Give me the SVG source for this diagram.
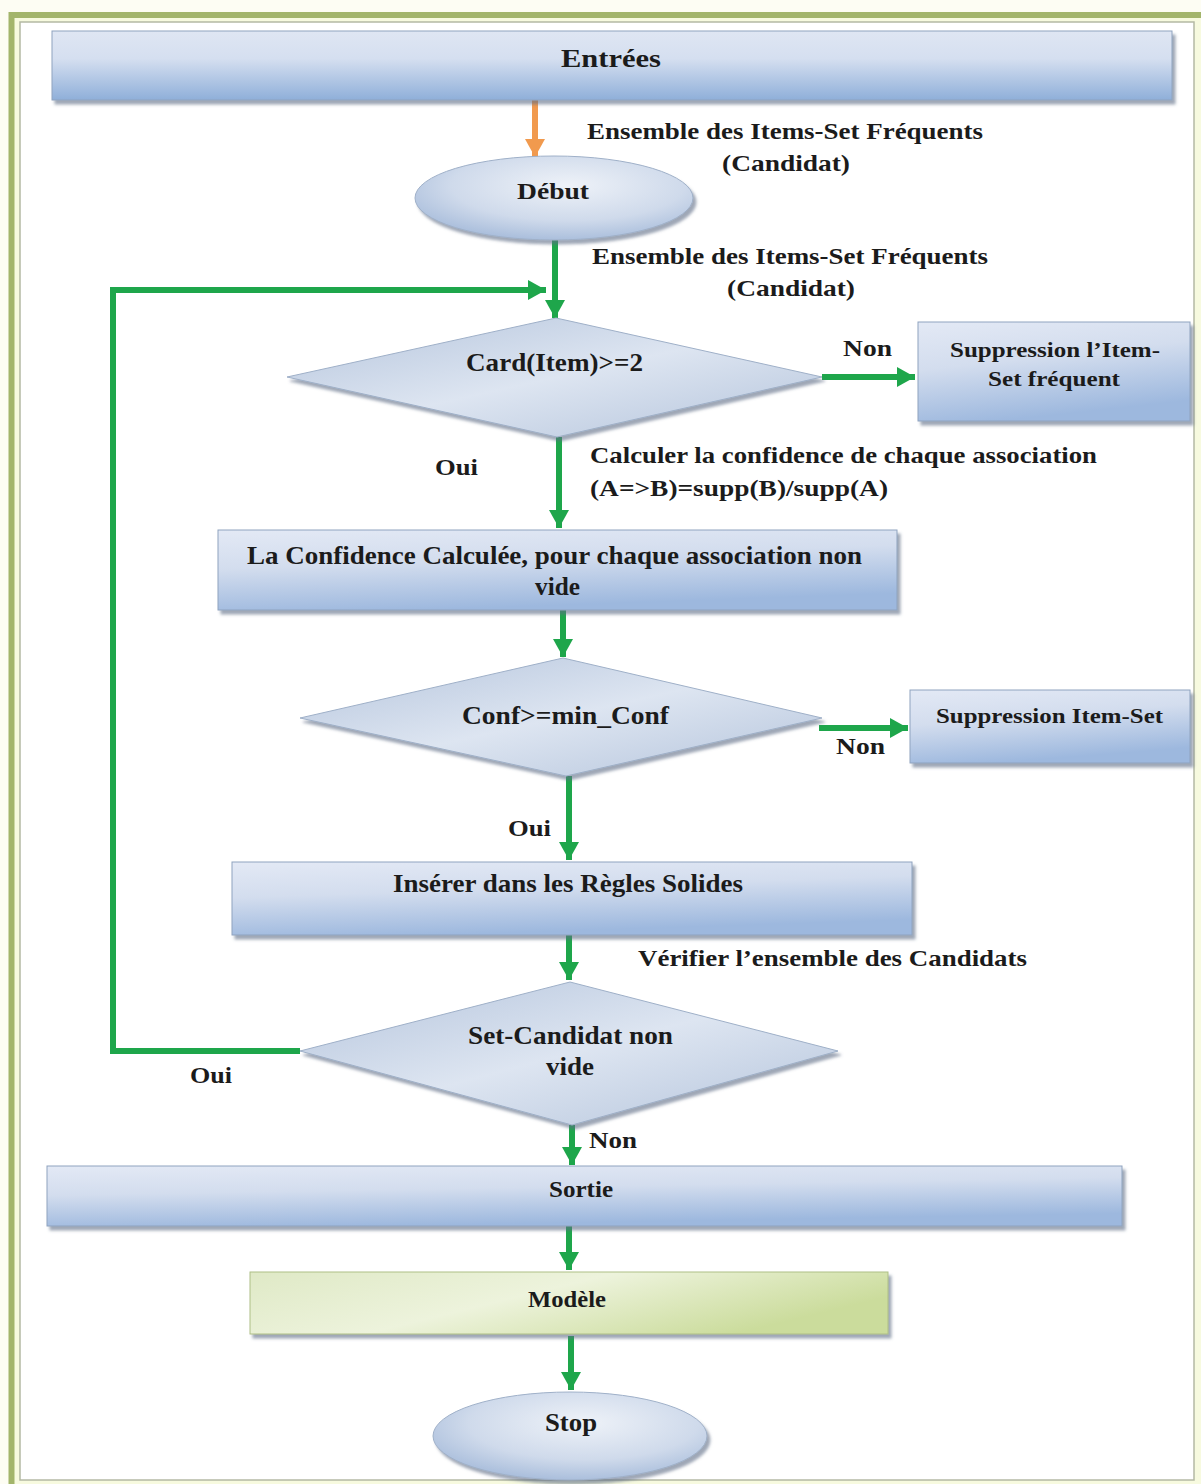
<svg xmlns="http://www.w3.org/2000/svg" width="1201" height="1484" viewBox="0 0 1201 1484">
  <style>
    .t { font-family: "Liberation Serif", "Times New Roman", serif; font-weight: bold; fill: #1b1b1b; }
    .s22 { font-size: 24px; }
    .s26 { font-size: 26px; }
    .s24 { font-size: 26px; }
    .s20 { font-size: 22px; }
    .flow { fill: none; stroke: #1ea64b; stroke-width: 6; }
    .flowo { fill: none; stroke: #f19a4e; stroke-width: 6; }
    .box { fill: url(#gBlue); stroke: #8fa3bf; stroke-width: 1; filter: url(#shadow); }
    .dia { fill: url(#gDia); stroke: #9fb0c8; stroke-width: 1; filter: url(#shadow); }
    .ell { fill: url(#gEll); stroke: #9fb0c8; stroke-width: 1; filter: url(#shadow); }
  </style>
  <defs>
    <linearGradient id="gBlue" x1="0" y1="0" x2="0.3" y2="1">
      <stop offset="0" stop-color="#e3e9f5"/>
      <stop offset="0.45" stop-color="#d3ddee"/>
      <stop offset="1" stop-color="#9db8de"/>
    </linearGradient>
    <linearGradient id="gTop" x1="0" y1="0" x2="0" y2="1">
      <stop offset="0" stop-color="#dfe6f3"/>
      <stop offset="0.4" stop-color="#d5dff0"/>
      <stop offset="1" stop-color="#8fafd9"/>
    </linearGradient>
    <linearGradient id="gDia" x1="0" y1="0" x2="1" y2="1">
      <stop offset="0" stop-color="#b4c4dc"/>
      <stop offset="0.5" stop-color="#dde5f1"/>
      <stop offset="1" stop-color="#b3c3db"/>
    </linearGradient>
    <radialGradient id="gEll" cx="0.55" cy="0.35" r="0.7">
      <stop offset="0" stop-color="#eef2f8"/>
      <stop offset="0.6" stop-color="#cfdaeb"/>
      <stop offset="1" stop-color="#a3b9d9"/>
    </radialGradient>
    <linearGradient id="gGreen" x1="0" y1="0" x2="1" y2="0.4">
      <stop offset="0" stop-color="#dfe9c6"/>
      <stop offset="0.5" stop-color="#edf3dc"/>
      <stop offset="1" stop-color="#cbdc9c"/>
    </linearGradient>
    <filter id="shadow" x="-5%" y="-10%" width="115%" height="130%">
      <feDropShadow dx="3" dy="4" stdDeviation="1.5" flood-color="#5d6d85" flood-opacity="0.6"/>
    </filter>
    <marker id="ahG" markerUnits="userSpaceOnUse" markerWidth="22" markerHeight="22" viewBox="0 0 22 22" refX="18" refY="11" orient="auto">
      <path d="M0,1 L18,11 L0,21 z" fill="#1ea64b"/>
    </marker>
    <marker id="ahO" markerUnits="userSpaceOnUse" markerWidth="22" markerHeight="22" viewBox="0 0 22 22" refX="18" refY="11" orient="auto">
      <path d="M0,1 L18,11 L0,21 z" fill="#f19a4e"/>
    </marker>
  </defs>

  <!-- page and frame -->
  <rect x="0" y="0" width="1201" height="1484" fill="#fdfdf3"/>
  <rect x="11.5" y="15" width="1200" height="1480" fill="#f7fadf" stroke="#a3b56b" stroke-width="6"/>
  <rect x="20" y="22" width="1174" height="1458" fill="#ffffff" stroke="#b4b9a4" stroke-width="1.5"/>

  <!-- connectors -->
  <g id="connectors">
    <line class="flowo" x1="535" y1="100" x2="535" y2="157" marker-end="url(#ahO)"/>
    <line class="flow" x1="555" y1="240" x2="555" y2="318" marker-end="url(#ahG)"/>
    <polyline class="flow" points="300,1051 113,1051 113,290 546,290" marker-end="url(#ahG)"/>
    <line class="flow" x1="822" y1="377" x2="915" y2="377" marker-end="url(#ahG)"/>
    <line class="flow" x1="559" y1="437" x2="559" y2="528" marker-end="url(#ahG)"/>
    <line class="flow" x1="563" y1="610" x2="563" y2="657" marker-end="url(#ahG)"/>
    <line class="flow" x1="819" y1="728" x2="908" y2="728" marker-end="url(#ahG)"/>
    <line class="flow" x1="569" y1="776" x2="569" y2="860" marker-end="url(#ahG)"/>
    <line class="flow" x1="569" y1="935" x2="569" y2="980" marker-end="url(#ahG)"/>
    <line class="flow" x1="572" y1="1125" x2="572" y2="1165" marker-end="url(#ahG)"/>
    <line class="flow" x1="569" y1="1226" x2="569" y2="1270" marker-end="url(#ahG)"/>
    <line class="flow" x1="571" y1="1336" x2="571" y2="1390" marker-end="url(#ahG)"/>
  </g>

  <!-- edge labels -->
  <g id="labels">
    <text class="t s22" x="587" y="139" textLength="396" lengthAdjust="spacingAndGlyphs">Ensemble des Items-Set Fréquents</text>
    <text class="t s22" x="722" y="171" textLength="128" lengthAdjust="spacingAndGlyphs">(Candidat)</text>
    <text class="t s22" x="592" y="264" textLength="396" lengthAdjust="spacingAndGlyphs">Ensemble des Items-Set Fréquents</text>
    <text class="t s22" x="727" y="296" textLength="128" lengthAdjust="spacingAndGlyphs">(Candidat)</text>
    <text class="t s22" x="843" y="356" textLength="49" lengthAdjust="spacingAndGlyphs">Non</text>
    <text class="t s22" x="435" y="475" textLength="43" lengthAdjust="spacingAndGlyphs">Oui</text>
    <text class="t s22" x="590" y="463" textLength="507" lengthAdjust="spacingAndGlyphs">Calculer la confidence de chaque association</text>
    <text class="t s22" x="590" y="496" textLength="298" lengthAdjust="spacingAndGlyphs">(A=&gt;B)=supp(B)/supp(A)</text>
    <text class="t s22" x="836" y="754" textLength="49" lengthAdjust="spacingAndGlyphs">Non</text>
    <text class="t s22" x="508" y="836" textLength="43" lengthAdjust="spacingAndGlyphs">Oui</text>
    <text class="t s22" x="638" y="966" textLength="389" lengthAdjust="spacingAndGlyphs">Vérifier l’ensemble des Candidats</text>
    <text class="t s22" x="190" y="1083" textLength="42" lengthAdjust="spacingAndGlyphs">Oui</text>
    <text class="t s22" x="589" y="1148" textLength="48" lengthAdjust="spacingAndGlyphs">Non</text>
  </g>

  <!-- nodes -->
  <g id="entrees">
    <rect x="52" y="31" width="1120" height="69" fill="url(#gTop)" stroke="#8fa3bf" stroke-width="1" filter="url(#shadow)"/>
    <text class="t s24" x="561" y="67" textLength="100" lengthAdjust="spacingAndGlyphs">Entrées</text>
  </g>

  <g id="debut">
    <ellipse class="ell" cx="554" cy="198" rx="139" ry="42"/>
    <text class="t s22" x="517" y="199" textLength="72" lengthAdjust="spacingAndGlyphs">Début</text>
  </g>

  <g id="card">
    <polygon class="dia" points="556,318 822,377 557,437 287,377"/>
    <text class="t s26" x="466" y="371" textLength="177" lengthAdjust="spacingAndGlyphs">Card(Item)&gt;=2</text>
  </g>

  <g id="suppr1">
    <rect class="box" x="918" y="322" width="272" height="99"/>
    <text class="t s20" x="950" y="357" textLength="210" lengthAdjust="spacingAndGlyphs">Suppression l’Item-</text>
    <text class="t s20" x="988" y="386" textLength="132" lengthAdjust="spacingAndGlyphs">Set fréquent</text>
  </g>

  <g id="confcalc">
    <rect class="box" x="218" y="530" width="679" height="80"/>
    <text class="t s26" x="247" y="564" textLength="615" lengthAdjust="spacingAndGlyphs">La Confidence Calculée, pour chaque association non</text>
    <text class="t s26" x="535" y="595" textLength="45" lengthAdjust="spacingAndGlyphs">vide</text>
  </g>

  <g id="conf">
    <polygon class="dia" points="563,658 822,718 566,776 300,718"/>
    <text class="t s26" x="462" y="724" textLength="207" lengthAdjust="spacingAndGlyphs">Conf&gt;=min_Conf</text>
  </g>

  <g id="suppr2">
    <rect class="box" x="910" y="690" width="280" height="73"/>
    <text class="t s20" x="936" y="723" textLength="227" lengthAdjust="spacingAndGlyphs">Suppression Item-Set</text>
  </g>

  <g id="inserer">
    <rect class="box" x="232" y="862" width="680" height="73"/>
    <text class="t s26" x="393" y="892" textLength="350" lengthAdjust="spacingAndGlyphs">Insérer dans les Règles Solides</text>
  </g>

  <g id="setcand">
    <polygon class="dia" points="570,982 838,1051 572,1125 300,1051"/>
    <text class="t s26" x="468" y="1044" textLength="205" lengthAdjust="spacingAndGlyphs">Set-Candidat non</text>
    <text class="t s26" x="546" y="1075" textLength="48" lengthAdjust="spacingAndGlyphs">vide</text>
  </g>

  <g id="sortie">
    <rect class="box" x="47" y="1166" width="1075" height="60"/>
    <text class="t s22" x="549" y="1197" textLength="64" lengthAdjust="spacingAndGlyphs">Sortie</text>
  </g>

  <g id="modele">
    <rect x="250" y="1272" width="638" height="62" fill="url(#gGreen)" stroke="#aebf86" stroke-width="1" filter="url(#shadow)"/>
    <text class="t s22" x="528" y="1307" textLength="78" lengthAdjust="spacingAndGlyphs">Modèle</text>
  </g>

  <g id="stop">
    <ellipse class="ell" cx="570" cy="1436" rx="137" ry="44"/>
    <text class="t s26" x="545" y="1431" textLength="52" lengthAdjust="spacingAndGlyphs">Stop</text>
  </g>
</svg>
